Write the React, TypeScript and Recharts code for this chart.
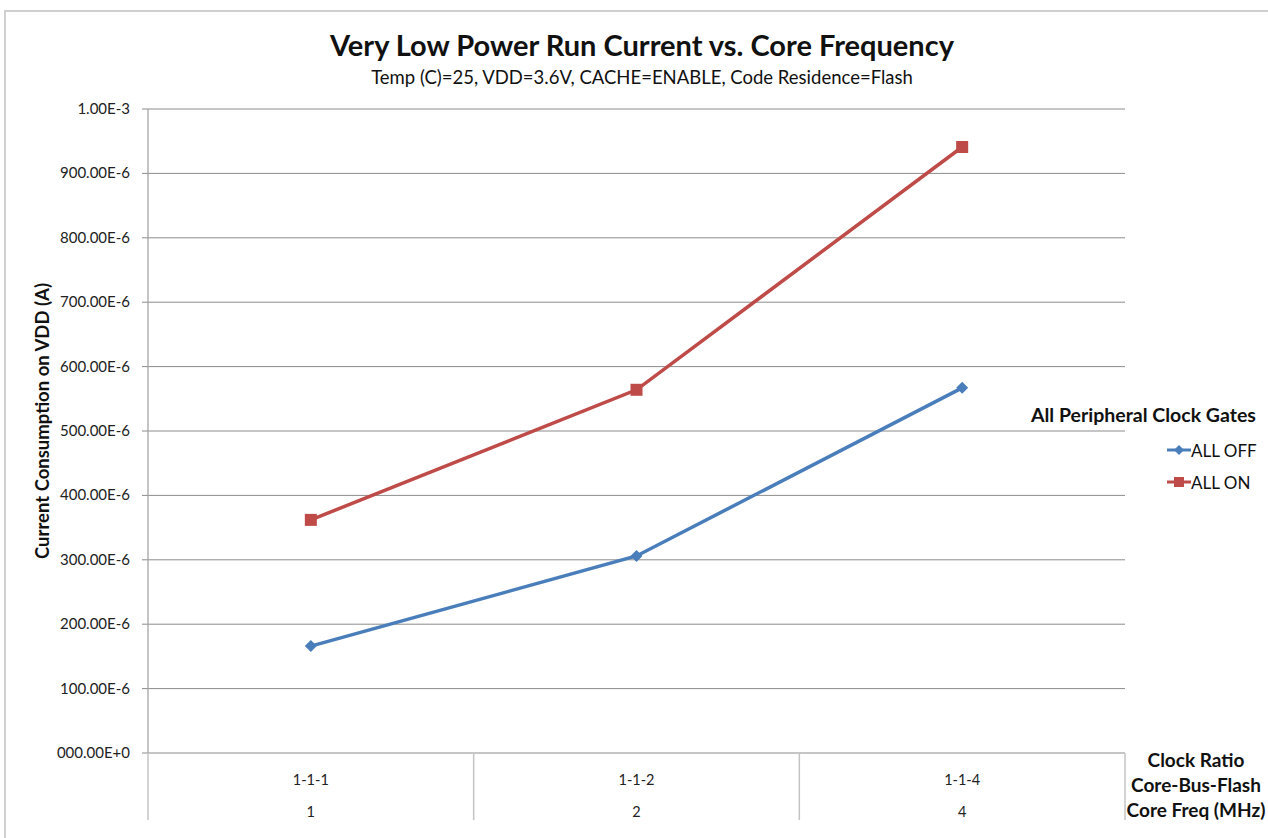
import { LineChart, Line, XAxis, YAxis, CartesianGrid, Legend } from 'recharts'

const clockRatios = ['1-1-1', '1-1-2', '1-1-4']
const coreFreqs = ['1', '2', '4']
const allOff = [166e-6, 306e-6, 567e-6]
const allOn = [362e-6, 564e-6, 941e-6]
const yTicks = [0, 1e-4, 2e-4, 3e-4, 4e-4, 5e-4, 6e-4, 7e-4, 8e-4, 9e-4, 1e-3]

const BLUE = '#4A7EBB'
const RED = '#BE4B48'
const FONT = 'Lato, "Open Sans", sans-serif'

const data = clockRatios.map((ratio, i) => ({
  ratio,
  freq: coreFreqs[i],
  off: allOff[i],
  on: allOn[i],
}))

// plot is 977px wide, three category bands
const BAND_HALF = 977 / 6

function formatAmp(v: number) {
  if (v === 0) return '000.00E+0'
  if (v >= 0.000999) return (v * 1e3).toFixed(2) + 'E-3'
  return (v * 1e6).toFixed(2) + 'E-6'
}

function Diamond(props: any) {
  const { cx, cy } = props
  if (cx == null || cy == null) return null
  const r = 6
  return (
    <polygon
      points={`${cx},${cy - r} ${cx + r},${cy} ${cx},${cy + r} ${cx - r},${cy}`}
      fill={BLUE}
    />
  )
}

function Square(props: any) {
  const { cx, cy } = props
  if (cx == null || cy == null) return null
  return <rect x={cx - 6} y={cy - 6} width={12} height={12} fill={RED} />
}

function AmpTick(props: any) {
  const { y, payload } = props
  return (
    <text x={130} y={y} dy={5} textAnchor="end" fontSize={15} fill="#222" fontFamily={FONT}>
      {formatAmp(payload.value)}
    </text>
  )
}

function CategoryTick(props: any) {
  const { x, y, payload, index, visibleTicksCount } = props
  const row = data[index] ?? { freq: '' }
  const last = index === visibleTicksCount - 1
  return (
    <g>
      <line x1={x - BAND_HALF} x2={x - BAND_HALF} y1={y} y2={y + 67} stroke="#c4c4c4" strokeWidth={1.5} />
      {last && (
        <line x1={x + BAND_HALF} x2={x + BAND_HALF} y1={y} y2={y + 67} stroke="#c4c4c4" strokeWidth={1.5} />
      )}
      <text x={x} y={y + 32} textAnchor="middle" fontSize={14.5} fill="#222" fontFamily={FONT}>
        {payload.value}
      </text>
      <text x={x} y={y + 64} textAnchor="middle" fontSize={14.5} fill="#222" fontFamily={FONT}>
        {row.freq}
      </text>
    </g>
  )
}

function LegendBox({ payload }: any) {
  return (
    <div style={{ fontFamily: FONT, textAlign: 'left' }}>
      <div style={{ fontWeight: 700, fontSize: 19.5, color: '#111', height: 24, lineHeight: '24px', marginBottom: 7, whiteSpace: 'nowrap' }}>
        All Peripheral Clock Gates
      </div>
      {(payload ?? []).map((p: any) => (
        <div key={p.value} style={{ display: 'flex', alignItems: 'center', marginLeft: 136, height: 32 }}>
          <svg width={24} height={14}>
            <line x1={0} x2={24} y1={7} y2={7} stroke={p.color} strokeWidth={3} />
            {p.value === 'ALL OFF' ? (
              <polygon points="12,2 17,7 12,12 7,7" fill={p.color} />
            ) : (
              <rect x={7} y={2} width={10} height={10} fill={p.color} />
            )}
          </svg>
          <span style={{ fontSize: 17, color: '#111', marginLeft: 0, whiteSpace: 'nowrap' }}>{p.value}</span>
        </div>
      ))}
    </div>
  )
}

export default function App() {
  return (
    <div
      style={{
        position: 'fixed',
        left: 0,
        top: 0,
        width: 1268,
        height: 838,
        background: '#fff',
        overflow: 'hidden',
        fontFamily: FONT,
      }}
    >
      <div
        style={{
          position: 'absolute',
          left: 4,
          top: 10,
          width: 1300,
          height: 900,
          borderLeft: '2px solid #d0d0d0',
          borderTop: '2px solid #d0d0d0',
        }}
      />
      <LineChart
        width={1268}
        height={838}
        data={data}
        margin={{ top: 109, right: 143, bottom: 15, left: 0 }}
      >
        <CartesianGrid vertical={false} stroke="#8c8c8c" strokeWidth={1} />
        <XAxis
          dataKey="ratio"
          padding={{ left: BAND_HALF, right: BAND_HALF }}
          axisLine={false}
          tickLine={false}
          tickSize={0}
          tickMargin={0}
          height={70}
          interval={0}
          tick={<CategoryTick />}
        />
        <YAxis
          width={148}
          domain={[0, 0.001]}
          ticks={yTicks}
          axisLine={{ stroke: '#b0b0b0', strokeWidth: 1.5 }}
          tickLine={{ stroke: '#8c8c8c' }}
          tickSize={6}
          tick={<AmpTick />}
        />
        <Legend
          verticalAlign="middle"
          align="center"
          layout="vertical"
          wrapperStyle={{ position: 'absolute', left: 1031, top: 403, width: 240 }}
          content={<LegendBox />}
        />
        <Line
          name="ALL OFF"
          dataKey="off"
          stroke={BLUE}
          strokeWidth={3.5}
          dot={<Diamond />}
          activeDot={false}
          isAnimationActive={false}
        />
        <Line
          name="ALL ON"
          dataKey="on"
          stroke={RED}
          strokeWidth={3.5}
          dot={<Square />}
          activeDot={false}
          isAnimationActive={false}
        />
      </LineChart>
      <div
        style={{
          position: 'absolute',
          left: 0,
          width: 1284,
          top: 27,
          textAlign: 'center',
          fontWeight: 700,
          fontSize: 29,
          lineHeight: '36px',
          color: '#111',
        }}
      >
        Very Low Power Run Current vs. Core Frequency
      </div>
      <div
        style={{
          position: 'absolute',
          left: 0,
          width: 1284,
          top: 66,
          textAlign: 'center',
          fontSize: 18.5,
          lineHeight: '22px',
          color: '#111',
        }}
      >
        Temp (C)=25, VDD=3.6V, CACHE=ENABLE, Code Residence=Flash
      </div>
      <div
        style={{
          position: 'absolute',
          left: 42,
          top: 421,
          transform: 'translate(-50%, -50%) rotate(-90deg)',
          whiteSpace: 'nowrap',
          fontWeight: 700,
          fontSize: 18.5,
          color: '#111',
        }}
      >
        Current Consumption on VDD (A)
      </div>
      {['Clock Ratio', 'Core-Bus-Flash', 'Core Freq (MHz)'].map((t, i) => (
        <div
          key={t}
          style={{
            position: 'absolute',
            left: 1096,
            width: 200,
            top: 748 + i * 25,
            textAlign: 'center',
            fontWeight: 700,
            fontSize: 19,
            lineHeight: '24px',
            color: '#111',
            whiteSpace: 'nowrap',
          }}
        >
          {t}
        </div>
      ))}
    </div>
  )
}
